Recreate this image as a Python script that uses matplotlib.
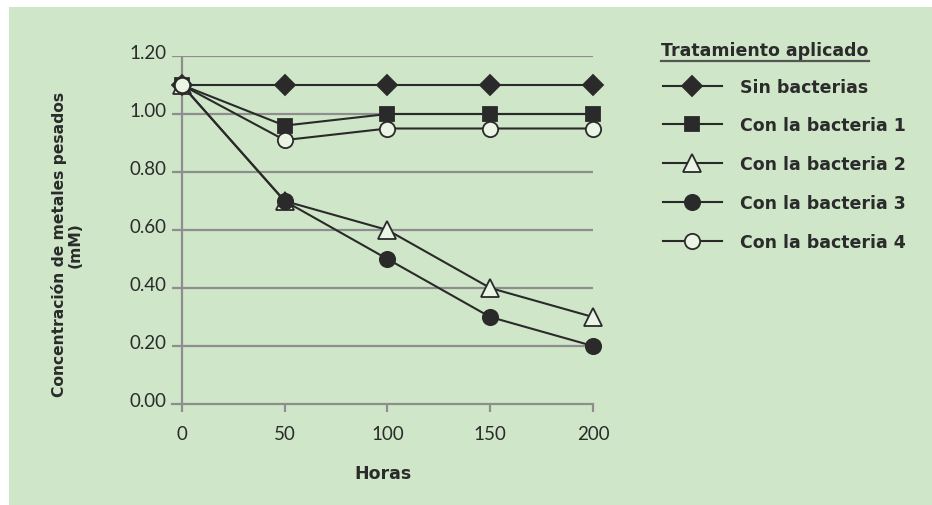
import matplotlib.pyplot as plt
from matplotlib.lines import Line2D
from matplotlib.patches import Rectangle
from matplotlib.transforms import ScaledTranslation

horas = [0, 50, 100, 150, 200]
sin_bacterias = [1.10, 1.10, 1.10, 1.10, 1.10]
bacteria_1 = [1.10, 0.96, 1.00, 1.00, 1.00]
bacteria_2 = [1.10, 0.70, 0.60, 0.40, 0.30]
bacteria_3 = [1.10, 0.70, 0.50, 0.30, 0.20]
bacteria_4 = [1.10, 0.91, 0.95, 0.95, 0.95]
y_ticks = [0.0, 0.2, 0.4, 0.6, 0.8, 1.0, 1.2]
labels = ['Sin bacterias', 'Con la bacteria 1', 'Con la bacteria 2',
          'Con la bacteria 3', 'Con la bacteria 4']

bg = '#cfe6c8'
line_c = '#2a2a2a'
open_fill = '#eaf5e6'
grid_c = '#8e8e8e'
txt_c = '#2b2b2b'
bold_font = ['DejaVu Sans']

plt.rcParams['font.family'] = ['Lato', 'DejaVu Sans']

fig = plt.figure(figsize=(9.32, 5.06), dpi=100)
fig.patch.set_facecolor('white')
fig.add_artist(Rectangle((9 / 932, 0), 1, 1 - 8 / 506, transform=fig.transFigure,
                         facecolor=bg, edgecolor='none', zorder=0))

ax = fig.add_axes([172 / 932, 101 / 506, 421 / 932, 348 / 506])
ax.set_facecolor('none')
ax.set_xlim(-4.8, 200)
ax.set_ylim(0, 1.2)

for s in ['top', 'right', 'left']:
    ax.spines[s].set_visible(False)
ax.spines['bottom'].set_color(grid_c)
ax.spines['bottom'].set_linewidth(1.6)

for yv in y_ticks[1:]:
    ax.axhline(yv, color=grid_c, lw=1.6, zorder=1)
ax.plot([0, 0], [0, 1.2], color=grid_c, lw=1.6, zorder=1)

ax.set_xticks(horas)
ax.set_yticks(y_ticks)
ax.set_yticklabels([f'{v:.2f}' for v in y_ticks])
ax.tick_params(axis='x', length=6, width=1.6, color=grid_c, labelsize=13.5,
               labelcolor=txt_c, pad=9)
ax.tick_params(axis='y', length=0, labelsize=13.5, labelcolor=txt_c, pad=4)
for lbl in ax.get_yticklabels():
    lbl.set_transform(lbl.get_transform() + ScaledTranslation(0, 0.05, fig.dpi_scale_trans))

ms = 11
series = [
    (sin_bacterias, dict(marker='D', markersize=ms - 0.5, markerfacecolor=line_c)),
    (bacteria_1, dict(marker='s', markersize=ms - 1, markerfacecolor=line_c)),
    (bacteria_2, dict(marker='^', markersize=ms + 2, markerfacecolor=open_fill)),
    (bacteria_3, dict(marker='o', markersize=ms, markerfacecolor=line_c)),
    (bacteria_4, dict(marker='o', markersize=ms, markerfacecolor=open_fill)),
]
handles = []
for (vals, mk), lab in zip(series, labels):
    h, = ax.plot(horas, vals, color=line_c, lw=1.5, markeredgecolor=line_c,
                 markeredgewidth=1.3, clip_on=False, zorder=3, label=lab, **mk)
    handles.append(h)

ax.set_xlabel('Horas', fontsize=12.5, fontweight='bold', color=txt_c, labelpad=16,
              family=bold_font)
ax.set_ylabel('Concentración de metales pesados\n(mM)', fontsize=11.2,
              fontweight='bold', color=txt_c, linespacing=1.1,
              family=bold_font)
ax.yaxis.set_label_coords(-0.212, 0.46)

fig.text(661 / 932, 1 - 51 / 506, 'Tratamiento aplicado', fontsize=12.5,
         fontweight='bold', color=txt_c, va='center', ha='left', family=bold_font)
fig.add_artist(Line2D([661 / 932, 869 / 932], [1 - 62 / 506, 1 - 62 / 506],
                      transform=fig.transFigure, color='#555555', lw=1.6))

fig.legend(handles, labels, loc='upper left',
           bbox_to_anchor=(647 / 932, 1 - 63 / 506), frameon=False,
           prop={'weight': 'bold', 'size': 12.5, 'family': bold_font},
           labelcolor=txt_c, handlelength=3.4, handletextpad=1.05,
           labelspacing=1.2)

fig.savefig('out.png', dpi=100, facecolor=fig.get_facecolor())
